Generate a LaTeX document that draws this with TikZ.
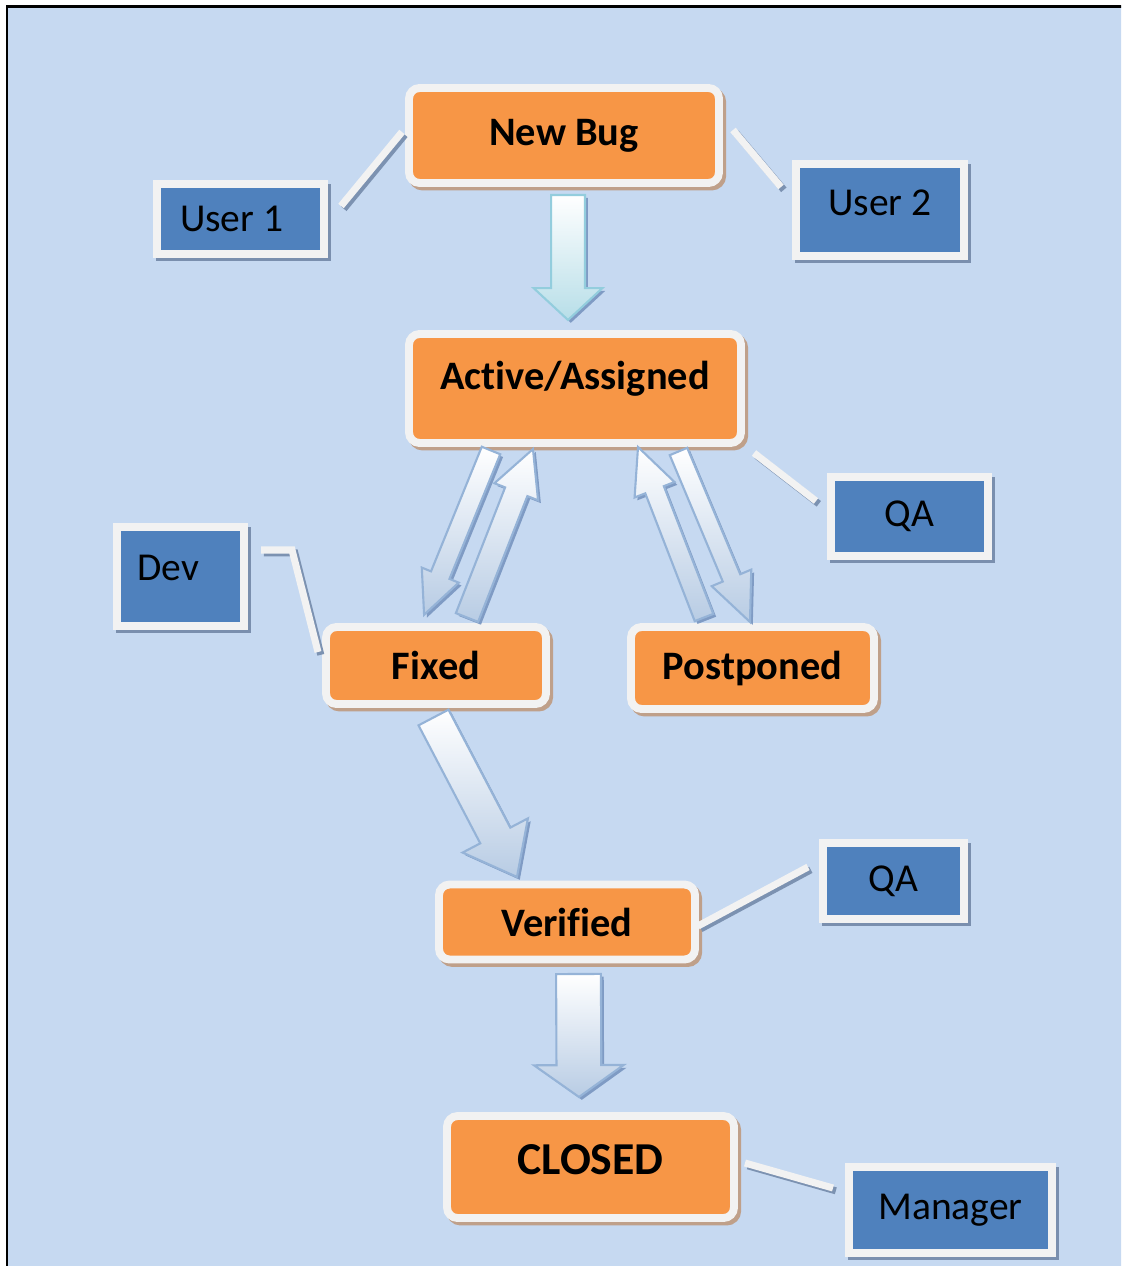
\documentclass[tikz,border=0pt]{standalone}
\usepackage{fontspec}
\setmainfont{Carlito}[Ligatures=NoCommon]
\usetikzlibrary{calc,shadows}

\definecolor{pagebg}{HTML}{C6D9F1}
\definecolor{bugorange}{HTML}{F79646}
\definecolor{rimwhite}{HTML}{F2F2F2}
\definecolor{orangeshade}{HTML}{BFA08A}
\definecolor{roleblue}{HTML}{4F81BD}
\definecolor{blueshade}{HTML}{7A8FAE}
\definecolor{linkshade}{HTML}{7C92B1}
\definecolor{arrowedge}{HTML}{95B3D7}
\definecolor{arrowfill}{HTML}{B8CCE4}
\definecolor{cyanedge}{HTML}{93CDDD}
\definecolor{cyanfill}{HTML}{B7DEE8}
\definecolor{arrowshade}{HTML}{7F9BC4}

\newcommand{\pxu}{0.567pt}
% block arrow from tail to tip: shaft width, head width, head length (px)
\newcommand{\fatarrow}[6][]{%
  \path[#1] let \p1=($(#3)-(#2)$), \n1={atan2(\y1,\x1)}, \n2={veclen(\x1,\y1)} in
    [shift={(#2)}, rotate=\n1]
    (0pt,{-#4*\pxu/2}) -- ({\n2-#6*\pxu},{-#4*\pxu/2}) -- ({\n2-#6*\pxu},{-#5*\pxu/2})
    -- (\n2,0pt) -- ({\n2-#6*\pxu},{#5*\pxu/2}) -- ({\n2-#6*\pxu},{#4*\pxu/2})
    -- (0pt,{#4*\pxu/2}) -- cycle;}

\tikzset{
  bugstate/.style={draw=rimwhite, line width=4.5pt, fill=bugorange, rounded corners=6pt,
    inner sep=0pt, font=\bfseries\fontsize{23}{27}\selectfont,
    drop shadow={shadow xshift=1.8pt, shadow yshift=-2pt, fill=orangeshade, draw=orangeshade, opacity=1}},
  rolebox/.style={draw=rimwhite, line width=4.5pt, fill=roleblue, inner sep=0pt,
    font=\fontsize{22.5}{26}\selectfont,
    drop shadow={shadow xshift=1.8pt, shadow yshift=-2pt, fill=blueshade, draw=blueshade, opacity=1}},
  linkbar/.style={draw=rimwhite, line width=4pt,
    preaction={draw=linkshade, line width=4pt, transform canvas={shift={(1.6pt,-1.6pt)}}}},
  flowarrow/.style={draw=arrowedge, line width=1.2pt, top color=white, bottom color=arrowfill,
    drop shadow={shadow xshift=1.6pt, shadow yshift=-1.6pt, fill=arrowshade, opacity=1}},
}

\begin{document}
\begin{tikzpicture}[x=0.02cm, y=-0.02cm]
\useasboundingbox (0,0) rectangle (1121,1266);
\fill[white] (0,0) rectangle (1121,1266);
\clip (0,0) rectangle (1121,1266);
\draw[line width=1.7pt, fill=pagebg] (7,6.5) rectangle (1140,1290);

% states
\node[bugstate, minimum width=6.2cm, minimum height=1.9cm] (newbug) at (564,135.5) {New Bug};
\node[bugstate, minimum width=6.64cm, minimum height=2.18cm, text depth=15pt] (active) at (575,388.5) {Active/Assigned};
\node[bugstate, minimum width=4.4cm, minimum height=1.54cm] (fixed) at (436,665.5) {Fixed};
\node[bugstate, minimum width=4.86cm, minimum height=1.64cm] (postponed) at (752.5,668) {Postponed};
\node[bugstate, minimum width=5.12cm, minimum height=1.5cm] (verified) at (567,922) {Verified};
\node[bugstate, minimum width=5.74cm, minimum height=2.04cm, text depth=8pt,
  font=\bfseries\fontsize{26}{30}\selectfont] (closed) at (590.5,1167) {CLOSED};

% roles
\node[rolebox, minimum width=3.34cm, minimum height=1.4cm] (user1) at (240.5,219) {\hspace*{-10pt}User 1};
\node[rolebox, minimum width=3.36cm, minimum height=1.84cm, text depth=8pt] (user2) at (880,210) {User 2};
\node[rolebox, minimum width=3.14cm, minimum height=1.58cm] (qa1) at (909.5,516.5) {QA};
\node[rolebox, minimum width=2.54cm, minimum height=1.98cm, text depth=10pt] (dev) at (180.5,576.5) {\hspace*{-14pt}Dev};
\node[rolebox, minimum width=2.82cm, minimum height=1.52cm] (qa2) at (893.5,881) {QA};
\node[rolebox, minimum width=4.06cm, minimum height=1.72cm] (manager) at (950.5,1210) {Manager};

% role links
\coordinate (u1a) at (341,206);   \coordinate (u1b) at (402,132);
\coordinate (u2a) at (733,130);   \coordinate (u2b) at (781,187);
\coordinate (qa1a) at (754,453);  \coordinate (qa1b) at (816,501);
\coordinate (deva) at (261,550);  \coordinate (devk) at (292,550);  \coordinate (devb) at (318,652);
\coordinate (qa2a) at (808,867);  \coordinate (qa2b) at (698,926);
\coordinate (mana) at (745,1163); \coordinate (manb) at (833,1188);
\draw[linkbar] (u1a) -- (u1b);
\draw[linkbar] (u2a) -- (u2b);
\draw[linkbar] (qa1a) -- (qa1b);
\draw[linkbar] (deva) -- (devk) -- (devb);
\draw[linkbar] (qa2a) -- (qa2b);
\draw[linkbar] (mana) -- (manb);

% flow arrows
\coordinate (nb1) at (568,195);   \coordinate (nb2) at (568,320);
\coordinate (af1) at (491,450.5); \coordinate (af2) at (424,615);
\coordinate (fa1) at (467,617.5); \coordinate (fa2) at (533,449);
\coordinate (pa1) at (704,617.5); \coordinate (pa2) at (638,447);
\coordinate (ap1) at (678.5,451.5); \coordinate (ap2) at (750,622);
\coordinate (fv1) at (433.5,717.5); \coordinate (fv2) at (517,877);
\coordinate (vc1) at (578.5,974); \coordinate (vc2) at (579,1097);
\fatarrow[flowarrow, draw=cyanedge, bottom color=cyanfill]{nb1}{nb2}{34}{69}{32}
\fatarrow[flowarrow]{af1}{af2}{20}{40}{43}
\fatarrow[flowarrow]{fa1}{fa2}{24}{47}{46}
\fatarrow[flowarrow]{pa1}{pa2}{20}{43}{46}
\fatarrow[flowarrow]{ap1}{ap2}{19}{43}{48}
\fatarrow[flowarrow]{fv1}{fv2}{34}{74}{47}
\fatarrow[flowarrow]{vc1}{vc2}{45}{90}{32}
\end{tikzpicture}
\end{document}
